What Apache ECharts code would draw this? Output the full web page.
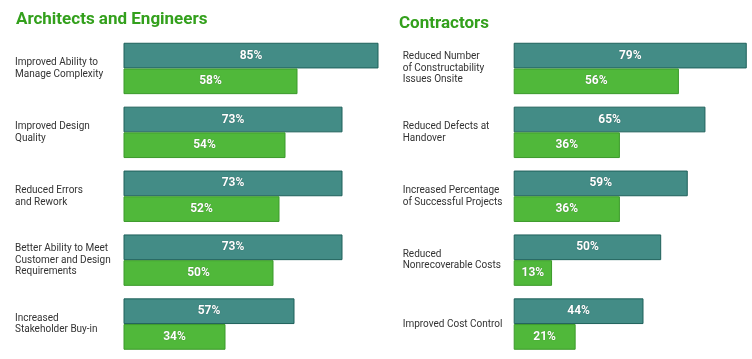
<!DOCTYPE html>
<html><head><meta charset="utf-8">
<script src="https://cdn.jsdelivr.net/npm/echarts@6/dist/echarts.min.js"></script>
<style>html,body{margin:0;padding:0;background:#fff}#c{width:752px;height:359px}</style>
</head><body><div id="c"></div>
<script>
const leftTitle = "Architects and Engineers";
const rightTitle = "Contractors";
const leftCategories = ["Improved Ability to\nManage Complexity","Improved Design\nQuality","Reduced Errors\nand Rework","Better Ability to Meet\nCustomer and Design\nRequirements","Increased\nStakeholder Buy-in"];
const leftTeal = [85,73,73,73,57];
const leftGreen = [58,54,52,50,34];
const rightCategories = ["Reduced Number\nof Constructability\nIssues Onsite","Reduced Defects at\nHandover","Increased Percentage\nof Successful Projects","Reduced\nNonrecoverable Costs","Improved Cost Control"];
const rightTeal = [79,65,59,50,44];
const rightGreen = [56,36,36,13,21];

const TEAL = '#438c86', TEAL_B = '#1f615b', GREEN = '#50b83a', GREEN_B = '#3b9a2a';
const FONT = 'Roboto';
const chart = echarts.init(document.getElementById('c'), null, {renderer:'canvas'});
function grid(left, width){ return {left:left, top:36.5, height:319.5, width:width, containLabel:false}; }
function xAx(i, max){ return {gridIndex:i, type:'value', min:0, max:max, show:false}; }
function yAx(i, cats, margin){ return {gridIndex:i, type:'category', data:cats, inverse:true,
  axisLine:{show:false}, axisTick:{show:false}, splitLine:{show:false},
  axisLabel:{align:'left', margin:margin, color:'#333', fontFamily:FONT, fontSize:10, lineHeight:11.5}}; }
function bar(i, data, color, border){ return {type:'bar', xAxisIndex:i, yAxisIndex:i, data:data, barWidth:25.7, barGap:'0%',
  itemStyle:{color:color, borderColor:border, borderWidth:1},
  label:{show:true, position:'inside', formatter:'{c}%', color:'#fff', fontWeight:'bold', fontFamily:FONT, fontSize:12,
    textShadowColor:'rgba(0,0,0,0.35)', textShadowBlur:1}, silent:true, animation:false}; }
const titleStyle = {color:'#33a01c', fontFamily:'"Liberation Sans Narrow", Roboto', fontWeight:'bold', fontSize:17};
chart.setOption({
  animation:false,
  title:[
    {text:leftTitle, left:16, top:11, padding:0, textStyle:titleStyle},
    {text:rightTitle, left:399, top:15, padding:0, textStyle:titleStyle}
  ],
  grid:[grid(123.5, 270), grid(513.7, 236)],
  xAxis:[xAx(0, 90), xAx(1, 80)],
  yAxis:[yAx(0, leftCategories, 108.5), yAx(1, rightCategories, 111)],
  series:[bar(0,leftTeal,TEAL,TEAL_B), bar(0,leftGreen,GREEN,GREEN_B), bar(1,rightTeal,TEAL,TEAL_B), bar(1,rightGreen,GREEN,GREEN_B)]
});
</script></body></html>
